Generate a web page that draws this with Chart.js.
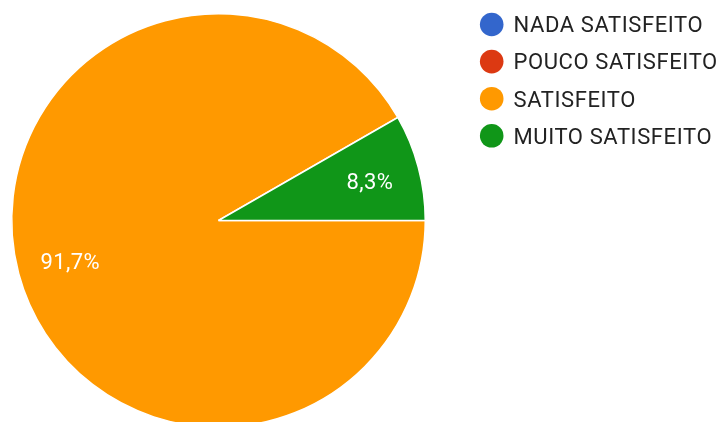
<!DOCTYPE html>
<html>
<head>
<meta charset="utf-8">
<script src="https://cdn.jsdelivr.net/npm/chart.js@4/dist/chart.umd.min.js"></script>
<style>
html,body{margin:0;padding:0;background:#fff;overflow:hidden;width:720px;height:422px;}
#wrap{position:absolute;left:0;top:0;width:720px;height:440px;}
</style>
</head>
<body>
<div id="wrap"><canvas id="c" width="720" height="440"></canvas></div>
<script>
const categories = ['NADA SATISFEITO', 'POUCO SATISFEITO', 'SATISFEITO', 'MUITO SATISFEITO'];
const values = [0, 0, 91.7, 8.3];
const sliceLabels = ['0%', '0%', '91,7%', '8,3%'];
const colors = ['#3366cc', '#dc3912', '#ff9900', '#109618'];

const sliceLabelPlugin = {
  id: 'sliceLabels',
  afterDatasetsDraw(chart) {
    const ctx = chart.ctx;
    const meta = chart.getDatasetMeta(0);
    ctx.save();
    ctx.fillStyle = '#ffffff';
    ctx.font = '22px Roboto';
    ctx.letterSpacing = '0.4px';
    ctx.textAlign = 'center';
    ctx.textBaseline = 'alphabetic';
    meta.data.forEach((arc, i) => {
      if (!values[i]) return;
      const p = arc.getProps(['x', 'y', 'startAngle', 'endAngle', 'outerRadius'], true);
      const mid = (p.startAngle + p.endAngle) / 2;
      const r = p.outerRadius * 0.75;
      ctx.fillText(sliceLabels[i], p.x + Math.cos(mid) * r + 1.5, p.y + Math.sin(mid) * r + 8.5);
    });
    ctx.restore();
  }
};

const legendPlugin = {
  id: 'sideLegend',
  afterDraw(chart) {
    const ctx = chart.ctx;
    ctx.save();
    ctx.font = '22px Roboto';
    ctx.letterSpacing = '0.6px';
    ctx.textBaseline = 'alphabetic';
    ctx.textAlign = 'left';
    chart.data.labels.forEach((lab, i) => {
      const y = 24.5 + i * 37.1;
      ctx.beginPath();
      ctx.arc(491.7, y, 11.8, 0, Math.PI * 2);
      ctx.fillStyle = chart.data.datasets[0].backgroundColor[i];
      ctx.fill();
      ctx.fillStyle = '#222222';
      ctx.fillText(lab, 513.5, y + 7.8);
    });
    ctx.restore();
  }
};

new Chart(document.getElementById('c'), {
  type: 'pie',
  data: {
    labels: categories,
    datasets: [{
      data: values,
      backgroundColor: colors,
      borderColor: '#ffffff',
      borderWidth: 1.5
    }]
  },
  options: {
    responsive: false,
    animation: false,
    rotation: 90,
    layout: { padding: { left: 11, top: 13, right: 294, bottom: 12 } },
    plugins: {
      legend: { display: false },
      tooltip: { enabled: false }
    }
  },
  plugins: [sliceLabelPlugin, legendPlugin]
});
</script>
</body>
</html>
